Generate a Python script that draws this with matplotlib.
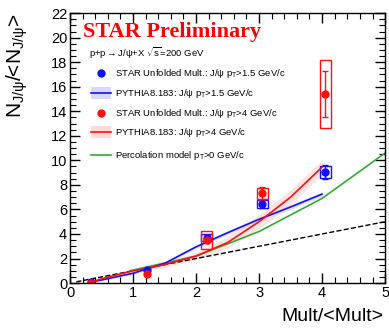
import matplotlib
matplotlib.use("Agg")
import matplotlib.pyplot as plt
import matplotlib.patches as patches
import numpy as np

plt.rcParams['font.family'] = ['Liberation Sans', 'DejaVu Sans']
plt.rcParams['mathtext.fontset'] = 'custom'
plt.rcParams['mathtext.rm'] = 'Liberation Sans'
plt.rcParams['mathtext.it'] = 'Liberation Sans'

# STAR data points
mult = [0.33, 1.22, 2.17, 3.05, 4.05]
blue_y = [0.1, 1.1, 3.7, 6.45, 9.05]
blue_stat = [0.05, 0.1, 0.2, 0.3, 0.6]
blue_sys = [0.05, 0.1, 0.3, 0.3, 0.45]
red_y = [0.0, 0.75, 3.5, 7.3, 15.4]
red_stat = [0.05, 0.1, 0.25, 0.5, 1.9]
red_sys = [0.05, 0.1, 0.75, 0.42, 2.75]

# PYTHIA curves
py_x = [0.3, 0.5, 1.0, 1.5, 2.0, 2.5, 3.0, 3.5, 4.0]
py_blue = [0.05, 0.25, 0.8, 1.6, 2.95, 4.1, 5.2, 6.2, 7.25]
py_blue_err = [0.05, 0.05, 0.1, 0.1, 0.15, 0.15, 0.2, 0.2, 0.2]
py_red = [0.0, 0.35, 1.0, 1.5, 2.2, 3.3, 5.0, 7.0, 9.45]
py_red_err = [0.1, 0.15, 0.2, 0.25, 0.3, 0.45, 0.6, 0.6, 0.6]

# percolation model
perc_x = [0.95, 2.0, 3.0, 4.0, 5.0]
perc_y = [1.0, 2.2, 4.2, 6.9, 10.6]

# linear reference
lin_x = [0.1, 5.0]
lin_y = [0.1, 5.0]

fig = plt.figure(figsize=(3.89, 3.28), dpi=100)
ax = fig.add_axes([0.18, 0.137, 0.81, 0.823])

blue = '#1010ff'
red = '#ff1010'
green = '#33aa33'

ax.fill_between(py_x, np.array(py_blue) - py_blue_err, np.array(py_blue) + py_blue_err,
                color='#c8c8ff', alpha=0.5, lw=0)
ax.fill_between(py_x, np.array(py_red) - py_red_err, np.array(py_red) + py_red_err,
                color='#ffc8c8', alpha=0.5, lw=0)
ax.plot(lin_x, lin_y, 'k--', lw=1)
ax.plot(perc_x, perc_y, color=green, lw=1.2)
ax.plot(py_x, py_blue, color=blue, lw=1.2)
ax.plot(py_x, py_red, color=red, lw=1.2)

hw = 0.09
for x, y, s in zip(mult, blue_y, blue_sys):
    if s > 0.2:
        ax.add_patch(patches.Rectangle((x - hw, y - s), 2 * hw, 2 * s, fill=False,
                                       edgecolor=blue, lw=1))
ax.errorbar(mult, blue_y, yerr=blue_stat, fmt='o', color=blue, ms=5, capsize=2, lw=1)
for x, y, s in zip(mult, red_y, red_sys):
    if s > 0.2:
        ax.add_patch(patches.Rectangle((x - hw, y - s), 2 * hw, 2 * s, fill=False,
                                       edgecolor=red, lw=1))
ax.errorbar(mult, red_y, yerr=red_stat, fmt='o', color=red, ms=5, capsize=2, lw=1)

ax.set_xlim(0, 5)
ax.set_ylim(0, 22)
ax.set_xticks([0, 1, 2, 3, 4, 5])
ax.set_yticks(range(0, 23, 2))
ax.set_xticks(np.arange(0, 5.01, 0.2), minor=True)
ax.set_yticks(np.arange(0, 22.01, 0.5), minor=True)
ax.tick_params(which='both', direction='in', top=True, right=True, labelsize=10.5, pad=2)
ax.tick_params(which='major', length=7, width=1)
ax.tick_params(which='minor', length=4, width=0.8)
for sp in ax.spines.values():
    sp.set_linewidth(1)

fig.text(0.045, 0.80, r'N$_{J/\psi}$/<N$_{J/\psi}$>', rotation=90, ha='center', va='center',
         fontsize=15)
fig.text(0.985, 0.035, 'Mult/<Mult>', ha='right', va='center', fontsize=14)

ax.text(0.04, 0.93, 'STAR Preliminary', transform=ax.transAxes, color='red',
        fontsize=16, fontweight='bold', family='Liberation Serif', va='center')

# legend
T = ax.transAxes
def fx(px):
    return (px - 70) / 315.0
def fy(py):
    return (283 - py) / 270.0

ax.text(fx(89), fy(53), r'p+p$\rightarrow$J/$\psi$+X $\sqrt{\rm s}$=200 GeV', transform=T,
        fontsize=6.8, va='center')
rows = [
    ('marker', blue, r'STAR Unfolded Mult.: J/$\psi$ p$_{\rm T}$>1.5 GeV/c', 73),
    ('band', blue, r'PYTHIA8.183: J/$\psi$ p$_{\rm T}$>1.5 GeV/c', 93),
    ('marker', red, r'STAR Unfolded Mult.: J/$\psi$ p$_{\rm T}$>4 GeV/c', 113),
    ('band', red, r'PYTHIA8.183: J/$\psi$ p$_{\rm T}$>4 GeV/c', 132),
    ('line', green, r'Percolation model p$_{\rm T}$>0 GeV/c', 155),
]
for kind, c, label, py in rows:
    if kind == 'marker':
        ax.plot([fx(101)], [fy(py)], 'o', color=c, ms=5, transform=T)
    else:
        if kind == 'band':
            bc = '#d8d8ff' if c == blue else '#ffd8d8'
            ax.add_patch(patches.Rectangle((fx(91), fy(py + 6)), fx(111) - fx(91),
                                           fy(py - 6) - fy(py + 6), transform=T,
                                           color=bc, lw=0))
        ax.plot([fx(91), fx(111)], [fy(py), fy(py)], color=c, lw=1.2, transform=T)
    ax.text(fx(115), fy(py), label, transform=T, fontsize=6.8, va='center')

fig.savefig('out.png', dpi=100)
